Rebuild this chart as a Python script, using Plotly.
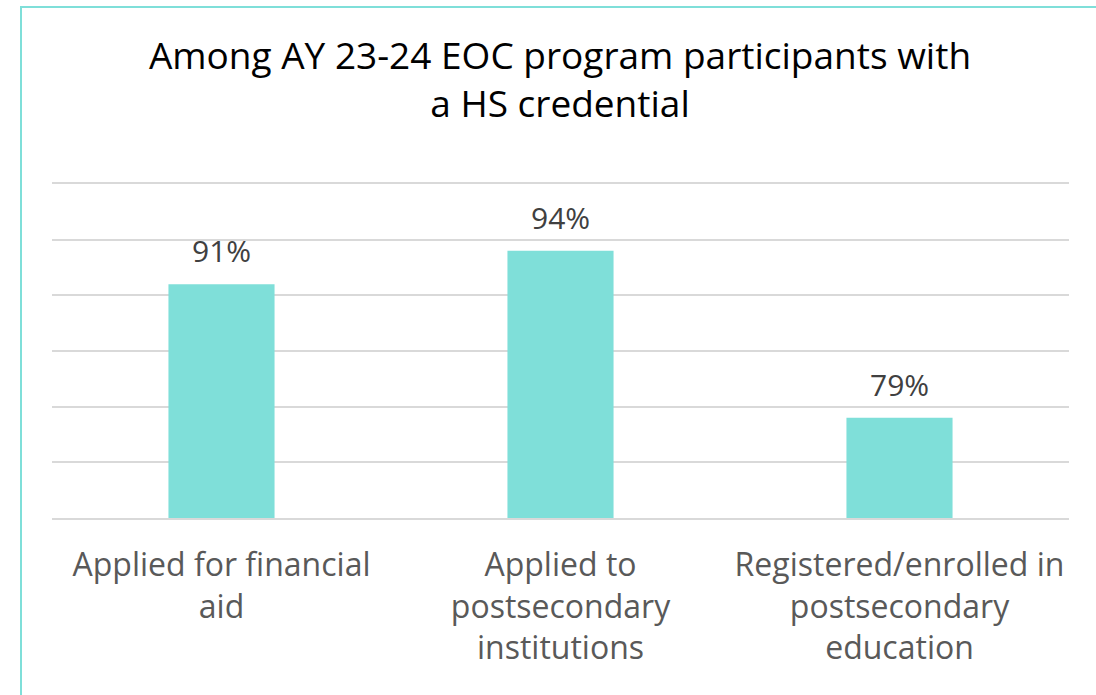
import plotly.graph_objects as go

categories = ["Applied for financial<br>aid", "Applied to<br>postsecondary<br>institutions", "Registered/enrolled in<br>postsecondary<br>education"]
values = [91, 94, 79]
value_labels = ["91%", "94%", "79%"]
title_text = "Among AY 23-24 EOC program participants with<br>a HS credential"

teal = "#7fdfd9"
W, H = 1096, 695
L, R, T, B = 52, 27, 184, 177

fig = go.Figure()
fig.add_trace(go.Bar(x=categories, y=values, marker=dict(color=teal, line=dict(width=0)),
                     width=0.313, hoverinfo="skip"))

for c, v, t in zip(categories, values, value_labels):
    fig.add_annotation(x=c, y=v, text=t, showarrow=False, yanchor="bottom", yshift=11,
                       font=dict(family="Open Sans", size=30, color="#404040"))

pw = W - L - R
ph = H - T - B
fig.add_shape(type="rect", xref="paper", yref="paper",
              x0=(21 - L) / pw, x1=(W + 50 - L) / pw,
              y0=-(H + 50 - (H - B)) / ph, y1=((H - B) - 7) / ph,
              line=dict(color=teal, width=2), fillcolor="rgba(0,0,0,0)", layer="below")

fig.update_layout(
    width=W, height=H,
    margin=dict(l=L, r=R, t=T, b=B),
    paper_bgcolor="white", plot_bgcolor="white",
    showlegend=False,
    title=dict(text=title_text, x=560 / W, xanchor="center", y=1 - 69 / H, yanchor="middle",
               yref="container", xref="container",
               font=dict(family="Open Sans", size=37, color="#000000")),
    font=dict(family="Open Sans"),
    xaxis=dict(showgrid=False, showline=True, linecolor="#d9d9d9", linewidth=1.5, mirror=True,
               zeroline=False, ticks="",
               tickfont=dict(family="Open Sans", size=32, color="#595959"),
               ticklabelstandoff=18),
    yaxis=dict(range=[70, 100], tickvals=[70, 75, 80, 85, 90, 95, 100], showticklabels=False,
               showgrid=True, gridcolor="#d9d9d9", gridwidth=1.5, zeroline=False, showline=False),
)

fig.write_html("out.html", config={"displayModeBar": False},
               post_script="document.body.style.margin='0';document.body.style.overflow='hidden';")
